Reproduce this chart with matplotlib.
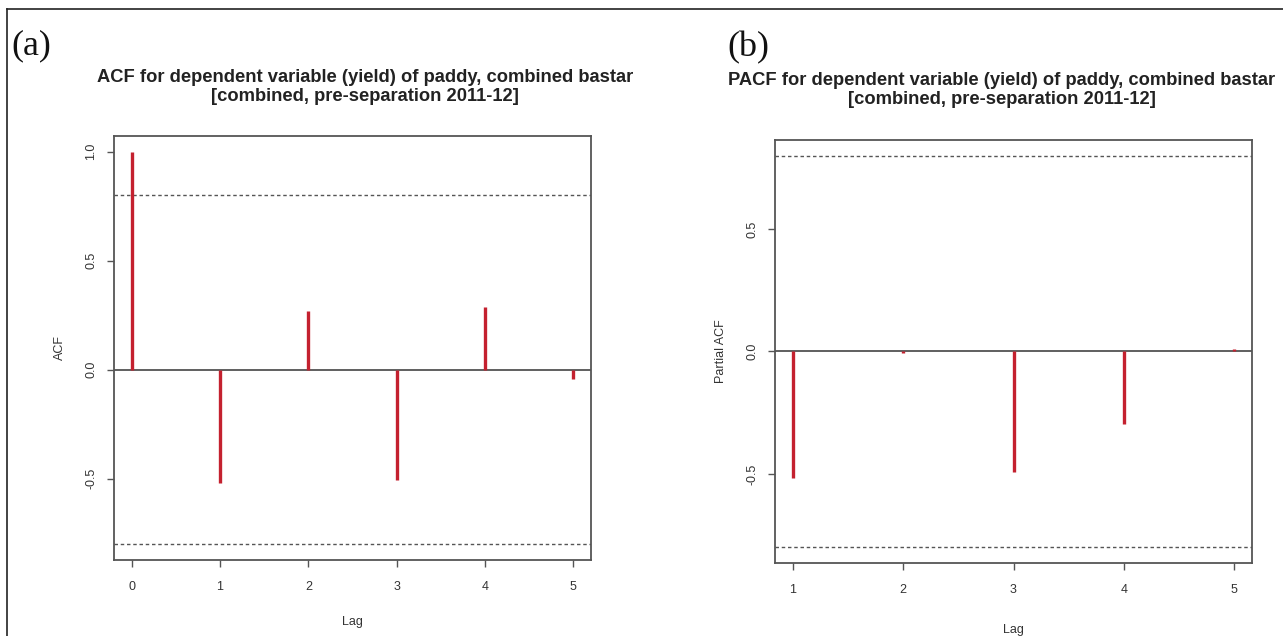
import matplotlib
matplotlib.use("Agg")
import matplotlib.pyplot as plt
from matplotlib.lines import Line2D

# ---- data ----
acf_lags = [0, 1, 2, 3, 4, 5]
acf_vals = [1.0, -0.519, 0.270, -0.505, 0.286, -0.042]
pacf_lags = [1, 2, 3, 4, 5]
pacf_vals = [-0.516, -0.006, -0.494, -0.295, 0.010]
conf_limit = 0.80

acf_title = "ACF for dependent variable (yield) of paddy, combined bastar\n[combined, pre-separation 2011-12]"
pacf_title = "PACF for dependent variable (yield) of paddy, combined bastar\n[combined, pre-separation 2011-12]"

W, H = 1283, 636
fig = plt.figure(figsize=(W / 100, H / 100), dpi=100)
fig.patch.set_facecolor("white")

bar_color = "#c4212f"
axis_gray = "#555555"
text_gray = "#333333"


def fx(px):
    return px / W


def fy(py):
    return 1 - py / H


def make_axes(x0, y0, x1, y1):
    return fig.add_axes([fx(x0), fy(y1), fx(x1) - fx(x0), fy(y0) - fy(y1)])


def style(ax, xticks, yticks, ylabel, xlabelpad):
    for s in ax.spines.values():
        s.set_color(axis_gray)
        s.set_linewidth(1.3)
    ax.set_xticks(xticks)
    ax.set_xticklabels([str(t) for t in xticks])
    ax.set_yticks(yticks)
    ax.set_yticklabels([f"{t:.1f}" for t in yticks], rotation=90, va="center")
    ax.tick_params(axis="both", direction="out", length=5, width=1, color=axis_gray,
                   labelcolor=text_gray, labelsize=9, labelfontfamily="Liberation Sans")
    ax.tick_params(axis="x", pad=10)
    ax.tick_params(axis="y", pad=7)
    ax.set_xlabel("Lag", fontsize=9, color=text_gray, family="Liberation Sans",
                  labelpad=xlabelpad)
    ax.set_ylabel(ylabel, fontsize=9, color=text_gray, family="Liberation Sans", labelpad=14)


# ---- (a) ACF ----
ax1 = make_axes(114, 136, 591, 560)
ax1.vlines(acf_lags, 0, acf_vals, color=bar_color, linewidth=2.4, zorder=3)
ax1.axhline(0, color="#444444", linewidth=1.2, zorder=2)
for c in (conf_limit, -conf_limit):
    ax1.axhline(c, color="#555555", linewidth=1.0, linestyle=(0, (2.5, 2)), zorder=2)
ax1.set_xlim(-0.2, 5.2)
ax1.set_ylim(-0.872, 1.072)
style(ax1, acf_lags, [-0.5, 0.0, 0.5, 1.0], "ACF", 17)

# ---- (b) PACF ----
ax2 = make_axes(775, 140, 1252, 563)
ax2.vlines(pacf_lags, 0, pacf_vals, color=bar_color, linewidth=2.4, zorder=3)
ax2.axhline(0, color="#444444", linewidth=1.2, zorder=2)
for c in (conf_limit, -conf_limit):
    ax2.axhline(c, color="#555555", linewidth=1.0, linestyle=(0, (2.5, 2)), zorder=2)
ax2.set_xlim(0.84, 5.16)
ax2.set_ylim(-0.864, 0.864)
style(ax2, pacf_lags, [-0.5, 0.0, 0.5], "Partial ACF", 20)

# ---- titles ----
fig.text(fx(365), fy(87), acf_title, ha="center", va="center", fontsize=13.2,
         fontweight="bold", family="Liberation Sans", color="#222222", linespacing=1.1)
fig.text(fx(1002), fy(90), pacf_title, ha="center", va="center", fontsize=13.2,
         fontweight="bold", family="Liberation Sans", color="#222222", linespacing=1.1)

# ---- panel labels ----
fig.text(fx(11), fy(46), "(a)", ha="left", va="center", fontsize=26,
         family="Liberation Serif", color="#111111")
fig.text(fx(727), fy(48), "(b)", ha="left", va="center", fontsize=26,
         family="Liberation Serif", color="#111111")

# ---- outer border (top and left edges) ----
fig.add_artist(Line2D([fx(7), 1.0], [fy(9), fy(9)], color="#222222", linewidth=1.2))
fig.add_artist(Line2D([fx(7), fx(7)], [fy(9), 0.0], color="#222222", linewidth=1.2))

fig.savefig("out.png", dpi=100, facecolor="white")
